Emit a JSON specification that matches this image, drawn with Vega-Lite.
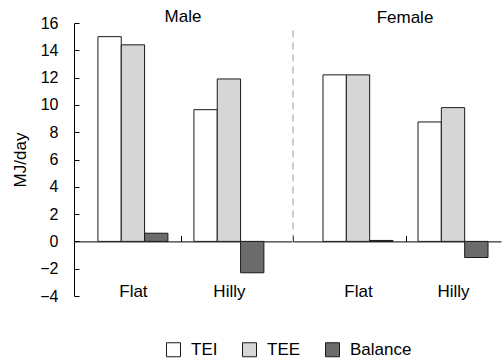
{
  "$schema": "https://vega.github.io/schema/vega-lite/v6.json",
  "padding": {"left": 11, "top": 8, "right": 4, "bottom": 3},
  "background": "white",
  "config": {
    "view": {"stroke": null},
    "font": "Liberation Sans",
    "concat": {"spacing": 0}
  },
  "datasets": {
    "energy": [
      {"sex": "Male", "terrain": "Flat", "measure": "TEI", "value": 15.0},
      {"sex": "Male", "terrain": "Flat", "measure": "TEE", "value": 14.4},
      {"sex": "Male", "terrain": "Flat", "measure": "Balance", "value": 0.6},
      {"sex": "Male", "terrain": "Hilly", "measure": "TEI", "value": 9.65},
      {"sex": "Male", "terrain": "Hilly", "measure": "TEE", "value": 11.9},
      {"sex": "Male", "terrain": "Hilly", "measure": "Balance", "value": -2.3},
      {"sex": "Female", "terrain": "Flat", "measure": "TEI", "value": 12.2},
      {"sex": "Female", "terrain": "Flat", "measure": "TEE", "value": 12.2},
      {"sex": "Female", "terrain": "Flat", "measure": "Balance", "value": 0.07},
      {"sex": "Female", "terrain": "Hilly", "measure": "TEI", "value": 8.75},
      {"sex": "Female", "terrain": "Hilly", "measure": "TEE", "value": 9.8},
      {"sex": "Female", "terrain": "Hilly", "measure": "Balance", "value": -1.18}
    ]
  },
  "spacing": 0,
  "resolve": {"scale": {"y": "shared", "fill": "shared", "x": "independent", "xOffset": "independent"}},
  "hconcat": [
    {
      "width": 218,
      "height": 273,
      "title": {"text": "Male", "fontSize": 17, "fontWeight": "normal", "color": "#000", "offset": -4, "dy": 7, "frame": "group"},
      "data": {"name": "energy"},
      "transform": [{"filter": "datum.sex === 'Male'"}],
      "mark": {"type": "bar", "stroke": "#1a1a1a", "strokeWidth": 1},
      "encoding": {
        "x": {
          "field": "terrain", "type": "nominal", "sort": ["Flat", "Hilly"],
          "scale": {"paddingInner": 0.271, "paddingOuter": 0.271, "align": 0.46},
          "axis": {"title": null, "orient": "bottom", "offset": -54.6, "domainColor": "#000", "tickColor": "#000", "tickSize": -6, "bandPosition": 0, "tickOffset": -13, "labelOffset": 13, "tickOpacity": {"condition": {"test": "datum.value === 'Flat'", "value": 0}, "value": 1}, "labelPadding": 48, "labelFontSize": 17, "labelColor": "#000", "labelAngle": 0}
        },
        "xOffset": {"field": "measure", "type": "nominal", "sort": ["TEI", "TEE", "Balance"], "scale": {"paddingInner": 0, "paddingOuter": 0}},
        "y": {
          "field": "value", "type": "quantitative",
          "scale": {"domain": [-4, 16], "nice": false},
          "axis": {"title": "MJ/day", "titleFontSize": 17, "titleFontWeight": "normal", "titleColor": "#000", "titlePadding": 10, "values": [-4, -2, 0, 2, 4, 6, 8, 10, 12, 14, 16], "grid": false, "domainColor": "#000", "tickColor": "#000", "tickSize": -5, "labelPadding": 21, "labelFontSize": 16, "labelColor": "#000"}
        },
        "fill": {
          "field": "measure", "type": "nominal",
          "scale": {"domain": ["TEI", "TEE", "Balance"], "range": ["#ffffff", "#d6d6d6", "#6b6b6b"]},
          "legend": {"orient": "none", "legendX": 91, "legendY": 318, "direction": "horizontal", "title": null, "symbolType": "square", "symbolSize": 196, "symbolStrokeColor": "#1a1a1a", "symbolStrokeWidth": 1, "labelFontSize": 17, "labelColor": "#000", "columnPadding": 22, "labelOffset": 9}
        }
      }
    },
    {
      "width": 208,
      "height": 273,
      "title": {"text": "Female", "fontSize": 17, "fontWeight": "normal", "color": "#000", "offset": -4, "dx": 8, "frame": "group"},
      "layer": [
        {
          "data": {"name": "energy"},
          "transform": [{"filter": "datum.sex === 'Female'"}],
          "mark": {"type": "bar", "stroke": "#1a1a1a", "strokeWidth": 1},
          "encoding": {
            "x": {
              "field": "terrain", "type": "nominal", "sort": ["Flat", "Hilly"],
              "scale": {"paddingInner": 0.263, "paddingOuter": 0.2263, "align": 0.698},
              "axis": {"title": null, "orient": "bottom", "offset": -54.6, "domainColor": "#000", "tickColor": "#000", "tickSize": -6, "bandPosition": 0, "tickOffset": -12.5, "labelOffset": 12.5, "tickExtra": true, "tickOpacity": {"condition": {"test": "datum.value === 'Flat'", "value": 0}, "value": 1}, "labelPadding": 48, "labelFontSize": 17, "labelColor": "#000", "labelAngle": 0}
            },
            "xOffset": {"field": "measure", "type": "nominal", "sort": ["TEI", "TEE", "Balance"], "scale": {"paddingInner": 0, "paddingOuter": 0}},
            "y": {"field": "value", "type": "quantitative", "scale": {"domain": [-4, 16], "nice": false}, "axis": null},
            "fill": {"field": "measure", "type": "nominal", "scale": {"domain": ["TEI", "TEE", "Balance"], "range": ["#ffffff", "#d6d6d6", "#6b6b6b"]}}
          }
        },
        {
          "data": {"values": [{"divider": "Male | Female"}]},
          "mark": {"type": "rule", "color": "#999999", "strokeWidth": 1, "strokeDash": [7, 5]},
          "encoding": {
            "x": {"value": 0},
            "y": {"datum": 0},
            "y2": {"datum": 15.8}
          }
        }
      ]
    }
  ]
}
